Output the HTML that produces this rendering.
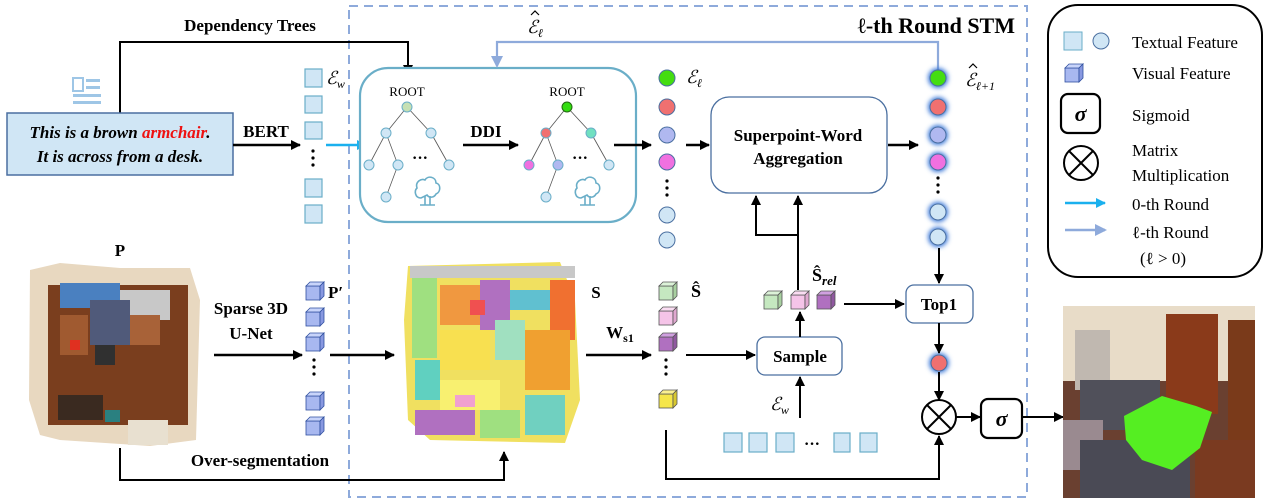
<!DOCTYPE html>
<html><head><meta charset="utf-8"><style>
html,body{margin:0;padding:0;background:#fff;}
svg{display:block;font-family:"Liberation Serif",serif;}
.b{font-weight:bold;}
</style></head><body>
<svg width="1268" height="501" viewBox="0 0 1268 501" xmlns="http://www.w3.org/2000/svg">
<defs>
<marker id="ak" markerWidth="10" markerHeight="10" refX="9" refY="5" orient="auto" markerUnits="userSpaceOnUse"><path d="M0,0 L10,5 L0,10 z" fill="#000"/></marker>
<marker id="ac" markerWidth="10" markerHeight="10" refX="9" refY="5" orient="auto" markerUnits="userSpaceOnUse"><path d="M0,0 L10,5 L0,10 z" fill="#1ab0ee"/></marker>
<marker id="al" markerWidth="12" markerHeight="12" refX="10" refY="6" orient="auto" markerUnits="userSpaceOnUse"><path d="M0,0 L12,6 L0,12 z" fill="#8eaadb"/></marker>
<filter id="gl" x="-1" y="-1" width="3" height="3"><feGaussianBlur stdDeviation="2.5"/></filter>
</defs>

<rect x="349" y="6" width="678" height="491" fill="none" stroke="#8eaadb" stroke-width="2" stroke-dasharray="9,6"/>
<text x="1015" y="33" text-anchor="end" class="b" font-size="22">ℓ-th Round STM</text>

<rect x="1048" y="5" width="214" height="272" rx="30" fill="#fff" stroke="#000" stroke-width="2"/>
<rect x="1064" y="32" width="18" height="18" fill="#d0e6f5" stroke="#6aaec8"/>
<circle cx="1101" cy="41" r="8" fill="#d0e6f5" stroke="#4a6fa0"/>
<text x="1132" y="48" font-size="17">Textual Feature</text>
<g transform="translate(1065,63)"><rect x="0" y="5" width="14" height="14" fill="#a8b8f0" stroke="#3050a0" stroke-width=".8"/><polygon points="0,5 4,1 18,1 14,5" fill="#c8d4fa" stroke="#3050a0" stroke-width=".8"/><polygon points="14,5 18,1 18,15 14,19" fill="#8898e0" stroke="#3050a0" stroke-width=".8"/></g>
<text x="1132" y="79" font-size="17">Visual Feature</text>
<rect x="1061" y="94" width="39" height="39" rx="7" fill="#fff" stroke="#000" stroke-width="2.2"/>
<text x="1080.5" y="121" text-anchor="middle" class="b" font-style="italic" font-size="22">σ</text>
<text x="1132" y="121" font-size="17">Sigmoid</text>
<circle cx="1081" cy="163" r="17" fill="#fff" stroke="#000" stroke-width="2"/>
<path d="M1069,151 L1093,175 M1093,151 L1069,175" stroke="#000" stroke-width="2"/>
<text x="1132" y="156" font-size="17">Matrix</text>
<text x="1132" y="181" font-size="17">Multiplication</text>
<line x1="1065" y1="203" x2="1105" y2="203" stroke="#1ab0ee" stroke-width="2.5" marker-end="url(#ac)"/>
<text x="1132" y="210" font-size="17">0-th Round</text>
<line x1="1065" y1="230" x2="1105" y2="230" stroke="#8eaadb" stroke-width="2.5" marker-end="url(#al)"/>
<text x="1132" y="238" font-size="17">ℓ-th Round</text>
<text x="1163" y="264" text-anchor="middle" font-size="17">(ℓ &gt; 0)</text>

<g fill="#9ec6e6"><rect x="73" y="78" width="10" height="13" fill="none" stroke="#9ec6e6" stroke-width="2"/><rect x="86" y="79" width="14" height="3"/><rect x="86" y="86" width="14" height="3"/><rect x="73" y="94" width="28" height="3"/><rect x="73" y="101" width="28" height="3"/></g>
<path d="M120,113 V42 H408 V74" fill="none" stroke="#000" stroke-width="2" marker-end="url(#ak)"/>
<text x="250" y="31" text-anchor="middle" class="b" font-size="17">Dependency Trees</text>
<rect x="7" y="113" width="226" height="62" fill="#d0e6f5" stroke="#4a6fa0" stroke-width="1.5"/>
<text x="120" y="138" text-anchor="middle" class="b" font-style="italic" font-size="17">This is a brown <tspan fill="#ee1111">armchair</tspan>.</text>
<text x="120" y="162" text-anchor="middle" class="b" font-style="italic" font-size="17">It is across from a desk.</text>
<text x="266" y="137" text-anchor="middle" class="b" font-size="17">BERT</text>
<line x1="233" y1="145" x2="300" y2="145" stroke="#000" stroke-width="2.5" marker-end="url(#ak)"/>
<g fill="#d0e6f5" stroke="#6aaec8" stroke-width="1.2">
<rect x="305" y="69" width="17" height="18"/><rect x="305" y="96" width="17" height="17"/><rect x="305" y="122" width="17" height="17"/><rect x="305" y="179" width="17" height="18"/><rect x="305" y="205" width="17" height="18"/></g>
<g fill="#000"><circle cx="313" cy="151" r="1.6"/><circle cx="313" cy="158" r="1.6"/><circle cx="313" cy="165" r="1.6"/></g>
<text x="326" y="84" font-size="18" font-style="italic">ℰ<tspan font-size="12" dy="4">w</tspan></text>
<line x1="326" y1="145" x2="366" y2="145" stroke="#1ab0ee" stroke-width="2.5" marker-end="url(#ac)"/>

<rect x="360" y="68" width="276" height="154" rx="28" fill="#fff" stroke="#6aaec8" stroke-width="2.2"/>
<g id="tr1">
<text x="407" y="96" text-anchor="middle" font-size="13">ROOT</text>
<g stroke="#555" stroke-width=".8"><line x1="407" y1="107" x2="386" y2="133"/><line x1="407" y1="107" x2="431" y2="133"/><line x1="386" y1="133" x2="369" y2="165"/><line x1="386" y1="133" x2="398" y2="165"/><line x1="431" y1="133" x2="449" y2="165"/><line x1="398" y1="165" x2="386" y2="197"/></g>
<text x="420" y="163" text-anchor="middle" class="b" font-size="16">···</text>
<path d="M421,198 c-6,0 -7,-7 -4,-10 c-2,-6 4,-10 8,-8 c3,-5 11,-3 11,3 c5,1 5,9 0,11 c-2,4 -7,4 -9,1 z M425,196 v9 M430,196 v9 M420,205 h15" fill="none" stroke="#6aaec8" stroke-width="1.6"/>
</g>
<g stroke="#6aaec8" stroke-width="1"><circle cx="407" cy="107" r="5" fill="#c6e0b4"/><circle cx="386" cy="133" r="5" fill="#d0e6f5"/><circle cx="431" cy="133" r="5" fill="#d0e6f5"/><circle cx="369" cy="165" r="5" fill="#d0e6f5"/><circle cx="398" cy="165" r="5" fill="#d0e6f5"/><circle cx="449" cy="165" r="5" fill="#d0e6f5"/><circle cx="386" cy="197" r="5" fill="#d0e6f5"/></g>
<use href="#tr1" x="160"/>
<g stroke="#6aaec8" stroke-width="1"><circle cx="567" cy="107" r="5" fill="#33dd11" stroke="#226611"/><circle cx="546" cy="133" r="5" fill="#f07070"/><circle cx="591" cy="133" r="5" fill="#70e0c0"/><circle cx="529" cy="165" r="5" fill="#f070e0"/><circle cx="558" cy="165" r="5" fill="#b0b8f0"/><circle cx="609" cy="165" r="5" fill="#d0e6f5"/><circle cx="546" cy="197" r="5" fill="#d0e6f5"/></g>
<text x="486" y="137" text-anchor="middle" class="b" font-size="17">DDI</text>
<line x1="463" y1="145" x2="518" y2="145" stroke="#000" stroke-width="2.5" marker-end="url(#ak)"/>
<line x1="614" y1="145" x2="651" y2="145" stroke="#000" stroke-width="2.5" marker-end="url(#ak)"/>

<g stroke="#4a6fa0" stroke-width="1"><circle cx="667" cy="78" r="8" fill="#44dd11"/><circle cx="667" cy="107" r="8" fill="#f07070"/><circle cx="667" cy="135" r="8" fill="#b0b8f0"/><circle cx="667" cy="162" r="8" fill="#f070e0"/><circle cx="667" cy="215" r="8" fill="#d0e6f5"/><circle cx="667" cy="240" r="8" fill="#d0e6f5"/></g>
<g fill="#000"><circle cx="667" cy="181" r="1.6"/><circle cx="667" cy="188" r="1.6"/><circle cx="667" cy="195" r="1.6"/></g>
<text x="686" y="83" font-size="18" font-style="italic">ℰ<tspan font-size="12" dy="4">ℓ</tspan></text>
<line x1="686" y1="145" x2="709" y2="145" stroke="#000" stroke-width="2.5" marker-end="url(#ak)"/>
<rect x="711" y="97" width="176" height="96" rx="18" fill="#fff" stroke="#4a6fa0" stroke-width="1.3"/>
<text x="798" y="141" text-anchor="middle" class="b" font-size="17">Superpoint-Word</text>
<text x="798" y="164" text-anchor="middle" class="b" font-size="17">Aggregation</text>
<line x1="888" y1="145" x2="918" y2="145" stroke="#000" stroke-width="2.5" marker-end="url(#ak)"/>

<path d="M938,70 V42 H497 V66" fill="none" stroke="#8eaadb" stroke-width="2.2" marker-end="url(#al)"/>
<text x="527" y="33" font-size="18" font-style="italic">ℰ<tspan font-size="12" dy="4">ℓ</tspan></text>
<path d="M531,15 L535,11 L539,15" fill="none" stroke="#000" stroke-width="1.2"/>
<g fill="#3a78d8" filter="url(#gl)"><circle cx="938" cy="78" r="10"/><circle cx="938" cy="107" r="10"/><circle cx="938" cy="135" r="10"/><circle cx="938" cy="162" r="10"/><circle cx="938" cy="212" r="10"/><circle cx="938" cy="237" r="10"/><circle cx="939" cy="363" r="10"/></g>
<g stroke="#4a6fa0" stroke-width="1"><circle cx="938" cy="78" r="8" fill="#44dd11"/><circle cx="938" cy="107" r="8" fill="#f07070"/><circle cx="938" cy="135" r="8" fill="#b0b8f0"/><circle cx="938" cy="162" r="8" fill="#f070e0"/><circle cx="938" cy="212" r="8" fill="#d0e6f5"/><circle cx="938" cy="237" r="8" fill="#d0e6f5"/><circle cx="939" cy="363" r="8" fill="#f07070"/></g>
<g fill="#000"><circle cx="938" cy="178" r="1.6"/><circle cx="938" cy="185" r="1.6"/><circle cx="938" cy="192" r="1.6"/></g>
<text x="965" y="86" font-size="18" font-style="italic">ℰ<tspan font-size="12" dy="4">ℓ+1</tspan></text>
<path d="M969,68 L973,64 L977,68" fill="none" stroke="#000" stroke-width="1.2"/>
<line x1="939" y1="248" x2="939" y2="283" stroke="#000" stroke-width="2" marker-end="url(#ak)"/>
<rect x="906" y="285" width="67" height="38" rx="8" fill="#fff" stroke="#4a6fa0" stroke-width="1.3"/>
<text x="939" y="310" text-anchor="middle" class="b" font-size="17">Top1</text>
<line x1="939" y1="323" x2="939" y2="353" stroke="#000" stroke-width="2" marker-end="url(#ak)"/>
<line x1="939" y1="372" x2="939" y2="400" stroke="#000" stroke-width="2" marker-end="url(#ak)"/>
<circle cx="939" cy="417" r="17" fill="#fff" stroke="#000" stroke-width="2"/>
<path d="M927,405 L951,429 M951,405 L927,429" stroke="#000" stroke-width="2"/>
<line x1="956" y1="417" x2="980" y2="417" stroke="#000" stroke-width="2" marker-end="url(#ak)"/>
<rect x="981" y="399" width="41" height="39" rx="7" fill="#fff" stroke="#000" stroke-width="2.2"/>
<text x="1001.5" y="426" text-anchor="middle" class="b" font-style="italic" font-size="22">σ</text>
<line x1="1022" y1="417" x2="1063" y2="417" stroke="#000" stroke-width="2" marker-end="url(#ak)"/>

<g stroke-width=".8" stroke="#555">
<g transform="translate(659,281)"><rect x="0" y="5" width="14" height="14" fill="#c5e8c0"/><polygon points="0,5 4,1 18,1 14,5" fill="#dcf2d8"/><polygon points="14,5 18,1 18,15 14,19" fill="#a8d0a0"/></g>
<g transform="translate(659,306)"><rect x="0" y="5" width="14" height="14" fill="#f5c4e8"/><polygon points="0,5 4,1 18,1 14,5" fill="#fadcf2"/><polygon points="14,5 18,1 18,15 14,19" fill="#e0a8d0"/></g>
<g transform="translate(659,332)"><rect x="0" y="5" width="14" height="14" fill="#b070c0"/><polygon points="0,5 4,1 18,1 14,5" fill="#d0a0e0"/><polygon points="14,5 18,1 18,15 14,19" fill="#9058a0"/></g>
<g transform="translate(659,389)"><rect x="0" y="5" width="14" height="14" fill="#f5e64a"/><polygon points="0,5 4,1 18,1 14,5" fill="#faf090"/><polygon points="14,5 18,1 18,15 14,19" fill="#d8c830"/></g>
<g transform="translate(764,290)"><rect x="0" y="5" width="14" height="14" fill="#c5e8c0"/><polygon points="0,5 4,1 18,1 14,5" fill="#dcf2d8"/><polygon points="14,5 18,1 18,15 14,19" fill="#a8d0a0"/></g>
<g transform="translate(791,290)"><rect x="0" y="5" width="14" height="14" fill="#f5c4e8"/><polygon points="0,5 4,1 18,1 14,5" fill="#fadcf2"/><polygon points="14,5 18,1 18,15 14,19" fill="#e0a8d0"/></g>
<g transform="translate(817,290)"><rect x="0" y="5" width="14" height="14" fill="#b070c0"/><polygon points="0,5 4,1 18,1 14,5" fill="#d0a0e0"/><polygon points="14,5 18,1 18,15 14,19" fill="#9058a0"/></g>
</g>
<g fill="#000"><circle cx="666" cy="360" r="1.6"/><circle cx="666" cy="367" r="1.6"/><circle cx="666" cy="374" r="1.6"/></g>
<text x="691" y="297" class="b" font-size="18">Ŝ</text>
<text x="812" y="281" class="b" font-size="18">Ŝ<tspan font-size="13" dy="4" font-style="italic">rel</tspan></text>
<line x1="686" y1="355" x2="755" y2="355" stroke="#000" stroke-width="2" marker-end="url(#ak)"/>
<rect x="757" y="337" width="85" height="38" rx="8" fill="#fff" stroke="#4a6fa0" stroke-width="1.3"/>
<text x="800" y="362" text-anchor="middle" class="b" font-size="17">Sample</text>
<line x1="800" y1="337" x2="800" y2="312" stroke="#000" stroke-width="2" marker-end="url(#ak)"/>
<path d="M798,290 V196" fill="none" stroke="#000" stroke-width="2" marker-end="url(#ak)"/>
<path d="M798,235 H756 V196" fill="none" stroke="#000" stroke-width="2" marker-end="url(#ak)"/>
<line x1="844" y1="304" x2="904" y2="304" stroke="#000" stroke-width="2" marker-end="url(#ak)"/>
<line x1="800" y1="418" x2="800" y2="377" stroke="#000" stroke-width="2" marker-end="url(#ak)"/>
<text x="770" y="410" font-size="18" font-style="italic">ℰ<tspan font-size="12" dy="4">w</tspan></text>
<g fill="#d0e6f5" stroke="#6aaec8" stroke-width="1.2"><rect x="724" y="433" width="18" height="19"/><rect x="749" y="433" width="18" height="19"/><rect x="776" y="433" width="18" height="19"/><rect x="834" y="433" width="16" height="19"/><rect x="860" y="433" width="17" height="19"/></g>
<text x="812" y="449" text-anchor="middle" class="b" font-size="16">···</text>
<path d="M666,430 V479 H939 V436" fill="none" stroke="#000" stroke-width="2" marker-end="url(#ak)"/>

<text x="120" y="256" text-anchor="middle" class="b" font-size="17">P</text>
<g>
<polygon points="30,270 60,263 120,268 190,268 200,300 196,440 150,446 60,440 40,435 29,400" fill="#e8d8c0"/>
<rect x="48" y="285" width="140" height="140" fill="#7a3e1e"/>
<rect x="60" y="283" width="60" height="25" fill="#4a80c0"/>
<rect x="120" y="290" width="50" height="30" fill="#c8c8c8"/>
<rect x="90" y="300" width="40" height="45" fill="#505a7a"/>
<rect x="60" y="315" width="28" height="40" fill="#a05a30"/>
<rect x="130" y="315" width="30" height="30" fill="#a86238"/>
<rect x="95" y="345" width="20" height="20" fill="#303030"/>
<rect x="58" y="395" width="45" height="25" fill="#3a2a20"/>
<rect x="105" y="410" width="15" height="12" fill="#2a8080"/>
<rect x="128" y="420" width="40" height="25" fill="#e8e0d0"/>
<rect x="70" y="340" width="10" height="10" fill="#e03020"/>
</g>
<text x="251" y="314" text-anchor="middle" class="b" font-size="17">Sparse 3D</text>
<text x="251" y="339" text-anchor="middle" class="b" font-size="17">U-Net</text>
<line x1="214" y1="355" x2="302" y2="355" stroke="#000" stroke-width="2.5" marker-end="url(#ak)"/>
<g stroke="#3050a0" stroke-width=".8">
<g transform="translate(306,281)"><rect x="0" y="5" width="14" height="14" fill="#a8b8f0"/><polygon points="0,5 4,1 18,1 14,5" fill="#c8d4fa"/><polygon points="14,5 18,1 18,15 14,19" fill="#8898e0"/></g>
<g transform="translate(306,307)"><rect x="0" y="5" width="14" height="14" fill="#a8b8f0"/><polygon points="0,5 4,1 18,1 14,5" fill="#c8d4fa"/><polygon points="14,5 18,1 18,15 14,19" fill="#8898e0"/></g>
<g transform="translate(306,332)"><rect x="0" y="5" width="14" height="14" fill="#a8b8f0"/><polygon points="0,5 4,1 18,1 14,5" fill="#c8d4fa"/><polygon points="14,5 18,1 18,15 14,19" fill="#8898e0"/></g>
<g transform="translate(306,391)"><rect x="0" y="5" width="14" height="14" fill="#a8b8f0"/><polygon points="0,5 4,1 18,1 14,5" fill="#c8d4fa"/><polygon points="14,5 18,1 18,15 14,19" fill="#8898e0"/></g>
<g transform="translate(306,416)"><rect x="0" y="5" width="14" height="14" fill="#a8b8f0"/><polygon points="0,5 4,1 18,1 14,5" fill="#c8d4fa"/><polygon points="14,5 18,1 18,15 14,19" fill="#8898e0"/></g>
</g>
<g fill="#000"><circle cx="314" cy="360" r="1.6"/><circle cx="314" cy="367" r="1.6"/><circle cx="314" cy="374" r="1.6"/></g>
<text x="328" y="298" class="b" font-size="17">P′</text>
<line x1="330" y1="355" x2="394" y2="355" stroke="#000" stroke-width="2.5" marker-end="url(#ak)"/>

<g>
<polygon points="408,266 560,262 575,300 580,400 565,443 430,440 408,420 404,320" fill="#f0e060"/>
<rect x="410" y="266" width="165" height="12" fill="#c8c8c8"/>
<rect x="412" y="278" width="25" height="80" fill="#9fe080"/>
<rect x="440" y="285" width="40" height="40" fill="#f09840"/>
<rect x="480" y="280" width="30" height="50" fill="#b070c0"/>
<rect x="510" y="290" width="40" height="20" fill="#60c0d0"/>
<rect x="550" y="280" width="25" height="60" fill="#f07030"/>
<rect x="440" y="330" width="50" height="40" fill="#f8e050"/>
<rect x="495" y="320" width="30" height="40" fill="#a0e0c0"/>
<rect x="525" y="330" width="45" height="60" fill="#f0a030"/>
<rect x="415" y="360" width="25" height="40" fill="#60d0c0"/>
<rect x="440" y="380" width="60" height="30" fill="#f8f070"/>
<rect x="415" y="410" width="60" height="25" fill="#b070c0"/>
<rect x="480" y="410" width="40" height="28" fill="#9fe080"/>
<rect x="525" y="395" width="40" height="40" fill="#70d0c0"/>
<rect x="470" y="300" width="15" height="15" fill="#f05050"/>
<rect x="455" y="395" width="20" height="12" fill="#f0a0d0"/>
</g>
<text x="596" y="298" text-anchor="middle" class="b" font-size="17">S</text>
<text x="620" y="338" text-anchor="middle" class="b" font-size="17">W<tspan font-size="12" dy="4">s1</tspan></text>
<line x1="586" y1="355" x2="651" y2="355" stroke="#000" stroke-width="2.5" marker-end="url(#ak)"/>
<path d="M120,448 V480 H504 V452" fill="none" stroke="#000" stroke-width="2" marker-end="url(#ak)"/>
<text x="260" y="466" text-anchor="middle" class="b" font-size="17">Over-segmentation</text>

<g>
<rect x="1063" y="306" width="192" height="192" fill="#6a4030"/>
<rect x="1063" y="306" width="192" height="75" fill="#e8dcc8"/>
<rect x="1166" y="314" width="52" height="100" fill="#8a3a1a"/>
<rect x="1228" y="320" width="27" height="120" fill="#7a3a1a"/>
<rect x="1075" y="330" width="35" height="60" fill="#c0b8b0"/>
<rect x="1080" y="380" width="80" height="50" fill="#50505a"/>
<rect x="1063" y="420" width="40" height="50" fill="#9a8a90"/>
<rect x="1080" y="440" width="110" height="58" fill="#4a4a55"/>
<rect x="1195" y="440" width="60" height="58" fill="#7a3a20"/>
<path d="M1124,416 L1162,396 L1196,406 L1212,412 L1200,448 L1172,470 L1142,460 L1126,440 z" fill="#55ee22"/>
</g>
</svg>
</body></html>
